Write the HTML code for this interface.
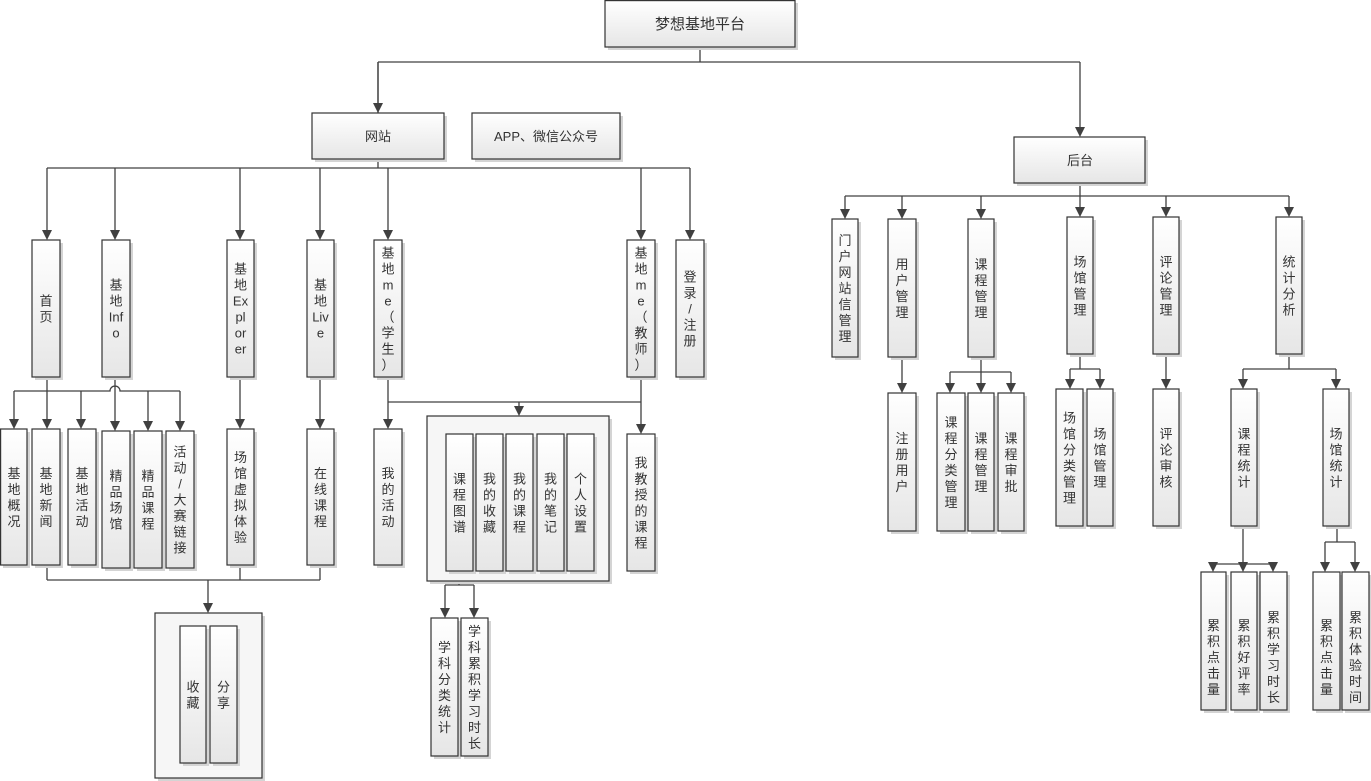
<!DOCTYPE html>
<html><head><meta charset="utf-8"><style>
html,body{margin:0;padding:0;background:#fff;}
svg{display:block;}
text{font-family:"Liberation Sans","Noto Sans CJK SC",sans-serif;font-size:13px;fill:#333;text-anchor:middle;}
.b{fill:url(#g);stroke:#333;stroke-width:1.2;}
.s{fill:#d4d4d4;}
.c{fill:#f6f6f6;stroke:#333;stroke-width:1.2;}
.l{fill:none;stroke:#404040;stroke-width:1.3;}
.a{fill:none;stroke:#404040;stroke-width:1.3;marker-end:url(#m);}
</style></head><body>
<svg width="1371" height="781" viewBox="0 0 1371 781" xmlns="http://www.w3.org/2000/svg">
<defs>
<linearGradient id="g" x1="0" y1="0" x2="0" y2="1"><stop offset="0" stop-color="#ffffff"/><stop offset="1" stop-color="#e6e6e6"/></linearGradient>
<marker id="m" markerWidth="10" markerHeight="10" refX="5" refY="10" orient="auto-start-reverse" markerUnits="userSpaceOnUse" viewBox="0 0 10 10"><path d="M0,0 L10,0 L5,10 Z" fill="#404040" transform="rotate(0)"/></marker>
</defs>
<style>#m path{}</style>

<!-- connectors -->
<path class="l" d="M700,47V62M378,62H1080"/>
<path class="a" d="M378,62V113" style="marker-end:none"/>
<g id="arr"></g>
<!-- arrows drawn as line + triangle -->
<g fill="#404040">
</g>
<path class="l" d="M378,62V104M1080,62V128M378,159V168M47,168H690"/>
<path class="l" d="M47,168V231M115,168V231M240,168V231M320,168V231M388,168V231M641,168V231M690,168V231"/>
<path class="l" d="M47,377V420M14,391H110A5,5 0 0 1 120,391H180M14,391V420M81,391V420M148,391V422M180,391V422M115,377V422"/>
<path class="l" d="M240,377V420M320,377V420M388,377V420M388,402H641M519,402V407M641,377V425"/>
<path class="l" d="M47,565V580M240,565V580M320,565V580M47,580H320M208,580V604"/>
<path class="l" d="M459,571V585M445,585H474M445,585V609M474,585V609"/>
<path class="l" d="M1080,183V196M845,196H1289M845,196V210M902,196V210M981,196V210M1080,196V208M1166,196V208M1289,196V208"/>
<path class="l" d="M902,357V384M981,357V372M950,372H1011M950,372V384M981,372V384M1011,372V384"/>
<path class="l" d="M1080,354V369M1070,369H1100M1070,369V380M1100,369V380M1166,354V380"/>
<path class="l" d="M1289,354V369M1243,369H1336M1243,369V380M1336,369V380"/>
<path class="l" d="M1243,526V564M1213,564H1273M1213,564V563M1213,564V563M1213,564V563"/>
<path class="l" d="M1213,564V563M1213,564V563"/>
<path class="l" d="M1213,564V563"/>
<path class="l" d="M1213,564V563M1243,564V563M1273,564V563"/>
<path class="l" d="M1337,526V542M1325,542H1355M1325,542V563M1355,542V563M1213,564V563"/>
<!-- arrowheads (tip x,y) -->
<g fill="#404040">
<path d="M373,103h10l-5,10z"/><path d="M1075,127h10l-5,10z"/>
<path d="M42,230h10l-5,10z"/><path d="M110,230h10l-5,10z"/><path d="M235,230h10l-5,10z"/><path d="M315,230h10l-5,10z"/><path d="M383,230h10l-5,10z"/><path d="M636,230h10l-5,10z"/><path d="M685,230h10l-5,10z"/>
<path d="M9,419h10l-5,10z"/><path d="M42,419h10l-5,10z"/><path d="M76,419h10l-5,10z"/><path d="M110,421h10l-5,10z"/><path d="M143,421h10l-5,10z"/><path d="M175,421h10l-5,10z"/>
<path d="M235,419h10l-5,10z"/><path d="M315,419h10l-5,10z"/><path d="M383,419h10l-5,10z"/><path d="M514,406h10l-5,10z"/><path d="M636,424h10l-5,10z"/>
<path d="M203,603h10l-5,10z"/><path d="M440,608h10l-5,10z"/><path d="M469,608h10l-5,10z"/>
<path d="M840,209h10l-5,10z"/><path d="M897,209h10l-5,10z"/><path d="M976,209h10l-5,10z"/><path d="M1075,207h10l-5,10z"/><path d="M1161,207h10l-5,10z"/><path d="M1284,207h10l-5,10z"/>
<path d="M897,383h10l-5,10z"/><path d="M945,383h10l-5,10z"/><path d="M976,383h10l-5,10z"/><path d="M1006,383h10l-5,10z"/>
<path d="M1065,379h10l-5,10z"/><path d="M1095,379h10l-5,10z"/><path d="M1161,379h10l-5,10z"/><path d="M1238,379h10l-5,10z"/><path d="M1331,379h10l-5,10z"/>
<path d="M1208,562h10l-5,10z"/><path d="M1238,562h10l-5,10z"/><path d="M1268,562h10l-5,10z"/><path d="M1320,562h10l-5,10z"/><path d="M1350,562h10l-5,10z"/>
</g>

<!-- top boxes -->
<rect class="s" x="608" y="3" width="190" height="47"/><rect class="b" x="605" y="0.6" width="190" height="46.4"/>
<text x="700" y="29" style="font-size:15px">梦想基地平台</text>
<rect class="s" x="315" y="116" width="132" height="46"/><rect class="b" x="312" y="113" width="132" height="46"/>
<text x="378" y="141">网站</text>
<rect class="s" x="475" y="116" width="148" height="46"/><rect class="b" x="472" y="113" width="148" height="46"/>
<text x="546" y="141">APP、微信公众号</text>
<rect class="s" x="1017" y="140" width="131" height="46"/><rect class="b" x="1014" y="137" width="131" height="46"/>
<text x="1080" y="165">后台</text>

<!-- containers -->
<rect class="s" x="430" y="419" width="182" height="165"/><rect class="c" x="427" y="416" width="182" height="165"/>
<rect class="s" x="158" y="616" width="107" height="165"/><rect class="c" x="155" y="613" width="107" height="165"/>

<!-- left level 1 -->
<rect class="s" x="35" y="243" width="28" height="137"/><rect class="b" x="32" y="240" width="28" height="137"/>
<text x="46" y="305.5"><tspan x="46">首</tspan><tspan x="46" dy="16">页</tspan></text>
<rect class="s" x="105" y="243" width="28" height="137"/><rect class="b" x="102" y="240" width="28" height="137"/>
<text x="116" y="289.5"><tspan x="116">基</tspan><tspan x="116" dy="16">地</tspan><tspan x="116" dy="16">Inf</tspan><tspan x="116" dy="16">o</tspan></text>
<rect class="s" x="230" y="243" width="27" height="137"/><rect class="b" x="227" y="240" width="27" height="137"/>
<text x="240.5" y="273.5"><tspan x="240.5">基</tspan><tspan x="240.5" dy="16">地</tspan><tspan x="240.5" dy="16">Ex</tspan><tspan x="240.5" dy="16">pl</tspan><tspan x="240.5" dy="16">or</tspan><tspan x="240.5" dy="16">er</tspan></text>
<rect class="s" x="310" y="243" width="27" height="137"/><rect class="b" x="307" y="240" width="27" height="137"/>
<text x="320.5" y="289.5"><tspan x="320.5">基</tspan><tspan x="320.5" dy="16">地</tspan><tspan x="320.5" dy="16">Liv</tspan><tspan x="320.5" dy="16">e</tspan></text>
<rect class="s" x="377" y="243" width="28" height="137"/><rect class="b" x="374" y="240" width="28" height="137"/>
<text x="388" y="257.5"><tspan x="388">基</tspan><tspan x="388" dy="16">地</tspan><tspan x="388" dy="16">m</tspan><tspan x="388" dy="16">e</tspan><tspan x="388" dy="16">（</tspan><tspan x="388" dy="16">学</tspan><tspan x="388" dy="16">生</tspan><tspan x="388" dy="16">）</tspan></text>
<rect class="s" x="630" y="243" width="28" height="137"/><rect class="b" x="627" y="240" width="28" height="137"/>
<text x="641" y="257.5"><tspan x="641">基</tspan><tspan x="641" dy="16">地</tspan><tspan x="641" dy="16">m</tspan><tspan x="641" dy="16">e</tspan><tspan x="641" dy="16">（</tspan><tspan x="641" dy="16">教</tspan><tspan x="641" dy="16">师</tspan><tspan x="641" dy="16">）</tspan></text>
<rect class="s" x="679" y="243" width="28" height="137"/><rect class="b" x="676" y="240" width="28" height="137"/>
<text x="690" y="281.5"><tspan x="690">登</tspan><tspan x="690" dy="16">录</tspan><tspan x="690" dy="16">/</tspan><tspan x="690" dy="16">注</tspan><tspan x="690" dy="16">册</tspan></text>

<!-- left level 2 -->
<rect class="s" x="3" y="432" width="27" height="136"/><rect class="b" x="0.6" y="429" width="26.4" height="136"/>
<text x="14" y="478"><tspan x="14">基</tspan><tspan x="14" dy="16">地</tspan><tspan x="14" dy="16">概</tspan><tspan x="14" dy="16">况</tspan></text>
<rect class="s" x="35" y="432" width="28" height="136"/><rect class="b" x="32" y="429" width="28" height="136"/>
<text x="46" y="478"><tspan x="46">基</tspan><tspan x="46" dy="16">地</tspan><tspan x="46" dy="16">新</tspan><tspan x="46" dy="16">闻</tspan></text>
<rect class="s" x="71" y="432" width="28" height="136"/><rect class="b" x="68" y="429" width="28" height="136"/>
<text x="82" y="478"><tspan x="82">基</tspan><tspan x="82" dy="16">地</tspan><tspan x="82" dy="16">活</tspan><tspan x="82" dy="16">动</tspan></text>
<rect class="s" x="105" y="434" width="28" height="137"/><rect class="b" x="102" y="431" width="28" height="137"/>
<text x="116" y="480.5"><tspan x="116">精</tspan><tspan x="116" dy="16">品</tspan><tspan x="116" dy="16">场</tspan><tspan x="116" dy="16">馆</tspan></text>
<rect class="s" x="137" y="434" width="28" height="137"/><rect class="b" x="134" y="431" width="28" height="137"/>
<text x="148" y="480.5"><tspan x="148">精</tspan><tspan x="148" dy="16">品</tspan><tspan x="148" dy="16">课</tspan><tspan x="148" dy="16">程</tspan></text>
<rect class="s" x="169" y="434" width="28" height="137"/><rect class="b" x="166" y="431" width="28" height="137"/>
<text x="180" y="456.5"><tspan x="180">活</tspan><tspan x="180" dy="16">动</tspan><tspan x="180" dy="16">/</tspan><tspan x="180" dy="16">大</tspan><tspan x="180" dy="16">赛</tspan><tspan x="180" dy="16">链</tspan><tspan x="180" dy="16">接</tspan></text>
<rect class="s" x="230" y="432" width="27" height="136"/><rect class="b" x="227" y="429" width="27" height="136"/>
<text x="240.5" y="462"><tspan x="240.5">场</tspan><tspan x="240.5" dy="16">馆</tspan><tspan x="240.5" dy="16">虚</tspan><tspan x="240.5" dy="16">拟</tspan><tspan x="240.5" dy="16">体</tspan><tspan x="240.5" dy="16">验</tspan></text>
<rect class="s" x="310" y="432" width="27" height="136"/><rect class="b" x="307" y="429" width="27" height="136"/>
<text x="320.5" y="478"><tspan x="320.5">在</tspan><tspan x="320.5" dy="16">线</tspan><tspan x="320.5" dy="16">课</tspan><tspan x="320.5" dy="16">程</tspan></text>
<rect class="s" x="377" y="432" width="28" height="136"/><rect class="b" x="374" y="429" width="28" height="136"/>
<text x="388" y="478"><tspan x="388">我</tspan><tspan x="388" dy="16">的</tspan><tspan x="388" dy="16">活</tspan><tspan x="388" dy="16">动</tspan></text>

<!-- container inner -->
<rect class="s" x="449" y="437" width="27" height="137"/><rect class="b" x="446" y="434" width="27" height="137"/>
<text x="459.5" y="483.5"><tspan x="459.5">课</tspan><tspan x="459.5" dy="16">程</tspan><tspan x="459.5" dy="16">图</tspan><tspan x="459.5" dy="16">谱</tspan></text>
<rect class="s" x="479" y="437" width="27" height="137"/><rect class="b" x="476" y="434" width="27" height="137"/>
<text x="489.5" y="483.5"><tspan x="489.5">我</tspan><tspan x="489.5" dy="16">的</tspan><tspan x="489.5" dy="16">收</tspan><tspan x="489.5" dy="16">藏</tspan></text>
<rect class="s" x="509" y="437" width="27" height="137"/><rect class="b" x="506" y="434" width="27" height="137"/>
<text x="519.5" y="483.5"><tspan x="519.5">我</tspan><tspan x="519.5" dy="16">的</tspan><tspan x="519.5" dy="16">课</tspan><tspan x="519.5" dy="16">程</tspan></text>
<rect class="s" x="540" y="437" width="27" height="137"/><rect class="b" x="537" y="434" width="27" height="137"/>
<text x="550.5" y="483.5"><tspan x="550.5">我</tspan><tspan x="550.5" dy="16">的</tspan><tspan x="550.5" dy="16">笔</tspan><tspan x="550.5" dy="16">记</tspan></text>
<rect class="s" x="570" y="437" width="27" height="137"/><rect class="b" x="567" y="434" width="27" height="137"/>
<text x="580.5" y="483.5"><tspan x="580.5">个</tspan><tspan x="580.5" dy="16">人</tspan><tspan x="580.5" dy="16">设</tspan><tspan x="580.5" dy="16">置</tspan></text>
<rect class="s" x="630" y="437" width="28" height="137"/><rect class="b" x="627" y="434" width="28" height="137"/>
<text x="641" y="467.5"><tspan x="641">我</tspan><tspan x="641" dy="16">教</tspan><tspan x="641" dy="16">授</tspan><tspan x="641" dy="16">的</tspan><tspan x="641" dy="16">课</tspan><tspan x="641" dy="16">程</tspan></text>

<rect class="s" x="434" y="621" width="27" height="138"/><rect class="b" x="431" y="618" width="27" height="138"/>
<text x="444.5" y="652"><tspan x="444.5">学</tspan><tspan x="444.5" dy="16">科</tspan><tspan x="444.5" dy="16">分</tspan><tspan x="444.5" dy="16">类</tspan><tspan x="444.5" dy="16">统</tspan><tspan x="444.5" dy="16">计</tspan></text>
<rect class="s" x="464" y="621" width="27" height="138"/><rect class="b" x="461" y="618" width="27" height="138"/>
<text x="474.5" y="636"><tspan x="474.5">学</tspan><tspan x="474.5" dy="16">科</tspan><tspan x="474.5" dy="16">累</tspan><tspan x="474.5" dy="16">积</tspan><tspan x="474.5" dy="16">学</tspan><tspan x="474.5" dy="16">习</tspan><tspan x="474.5" dy="16">时</tspan><tspan x="474.5" dy="16">长</tspan></text>

<rect class="s" x="183" y="629" width="26" height="137"/><rect class="b" x="180" y="626" width="26" height="137"/>
<text x="193" y="691.5"><tspan x="193">收</tspan><tspan x="193" dy="16">藏</tspan></text>
<rect class="s" x="213" y="629" width="27" height="137"/><rect class="b" x="210" y="626" width="27" height="137"/>
<text x="223.5" y="691.5"><tspan x="223.5">分</tspan><tspan x="223.5" dy="16">享</tspan></text>

<!-- right level 1 -->
<rect class="s" x="835" y="222" width="26" height="138"/><rect class="b" x="832" y="219" width="26" height="138"/>
<text x="845" y="245"><tspan x="845">门</tspan><tspan x="845" dy="16">户</tspan><tspan x="845" dy="16">网</tspan><tspan x="845" dy="16">站</tspan><tspan x="845" dy="16">信</tspan><tspan x="845" dy="16">管</tspan><tspan x="845" dy="16">理</tspan></text>
<rect class="s" x="891" y="222" width="28" height="138"/><rect class="b" x="888" y="219" width="28" height="138"/>
<text x="902" y="269"><tspan x="902">用</tspan><tspan x="902" dy="16">户</tspan><tspan x="902" dy="16">管</tspan><tspan x="902" dy="16">理</tspan></text>
<rect class="s" x="971" y="222" width="26" height="138"/><rect class="b" x="968" y="219" width="26" height="138"/>
<text x="981" y="269"><tspan x="981">课</tspan><tspan x="981" dy="16">程</tspan><tspan x="981" dy="16">管</tspan><tspan x="981" dy="16">理</tspan></text>
<rect class="s" x="1070" y="220" width="26" height="137"/><rect class="b" x="1067" y="217" width="26" height="137"/>
<text x="1080" y="266.5"><tspan x="1080">场</tspan><tspan x="1080" dy="16">馆</tspan><tspan x="1080" dy="16">管</tspan><tspan x="1080" dy="16">理</tspan></text>
<rect class="s" x="1156" y="220" width="26" height="137"/><rect class="b" x="1153" y="217" width="26" height="137"/>
<text x="1166" y="266.5"><tspan x="1166">评</tspan><tspan x="1166" dy="16">论</tspan><tspan x="1166" dy="16">管</tspan><tspan x="1166" dy="16">理</tspan></text>
<rect class="s" x="1279" y="220" width="26" height="137"/><rect class="b" x="1276" y="217" width="26" height="137"/>
<text x="1289" y="266.5"><tspan x="1289">统</tspan><tspan x="1289" dy="16">计</tspan><tspan x="1289" dy="16">分</tspan><tspan x="1289" dy="16">析</tspan></text>

<!-- right level 2 -->
<rect class="s" x="891" y="396" width="28" height="138"/><rect class="b" x="888" y="393" width="28" height="138"/>
<text x="902" y="443"><tspan x="902">注</tspan><tspan x="902" dy="16">册</tspan><tspan x="902" dy="16">用</tspan><tspan x="902" dy="16">户</tspan></text>
<rect class="s" x="940" y="396" width="28" height="138"/><rect class="b" x="937" y="393" width="28" height="138"/>
<text x="951" y="427"><tspan x="951">课</tspan><tspan x="951" dy="16">程</tspan><tspan x="951" dy="16">分</tspan><tspan x="951" dy="16">类</tspan><tspan x="951" dy="16">管</tspan><tspan x="951" dy="16">理</tspan></text>
<rect class="s" x="971" y="396" width="26" height="138"/><rect class="b" x="968" y="393" width="26" height="138"/>
<text x="981" y="443"><tspan x="981">课</tspan><tspan x="981" dy="16">程</tspan><tspan x="981" dy="16">管</tspan><tspan x="981" dy="16">理</tspan></text>
<rect class="s" x="1001" y="396" width="26" height="138"/><rect class="b" x="998" y="393" width="26" height="138"/>
<text x="1011" y="443"><tspan x="1011">课</tspan><tspan x="1011" dy="16">程</tspan><tspan x="1011" dy="16">审</tspan><tspan x="1011" dy="16">批</tspan></text>
<rect class="s" x="1059" y="392" width="27" height="137"/><rect class="b" x="1056" y="389" width="27" height="137"/>
<text x="1069.5" y="422.5"><tspan x="1069.5">场</tspan><tspan x="1069.5" dy="16">馆</tspan><tspan x="1069.5" dy="16">分</tspan><tspan x="1069.5" dy="16">类</tspan><tspan x="1069.5" dy="16">管</tspan><tspan x="1069.5" dy="16">理</tspan></text>
<rect class="s" x="1090" y="392" width="26" height="137"/><rect class="b" x="1087" y="389" width="26" height="137"/>
<text x="1100" y="438.5"><tspan x="1100">场</tspan><tspan x="1100" dy="16">馆</tspan><tspan x="1100" dy="16">管</tspan><tspan x="1100" dy="16">理</tspan></text>
<rect class="s" x="1156" y="392" width="26" height="137"/><rect class="b" x="1153" y="389" width="26" height="137"/>
<text x="1166" y="438.5"><tspan x="1166">评</tspan><tspan x="1166" dy="16">论</tspan><tspan x="1166" dy="16">审</tspan><tspan x="1166" dy="16">核</tspan></text>
<rect class="s" x="1234" y="392" width="26" height="137"/><rect class="b" x="1231" y="389" width="26" height="137"/>
<text x="1244" y="438.5"><tspan x="1244">课</tspan><tspan x="1244" dy="16">程</tspan><tspan x="1244" dy="16">统</tspan><tspan x="1244" dy="16">计</tspan></text>
<rect class="s" x="1326" y="392" width="26" height="137"/><rect class="b" x="1323" y="389" width="26" height="137"/>
<text x="1336" y="438.5"><tspan x="1336">场</tspan><tspan x="1336" dy="16">馆</tspan><tspan x="1336" dy="16">统</tspan><tspan x="1336" dy="16">计</tspan></text>

<!-- right level 3 -->
<rect class="s" x="1204" y="575" width="25" height="138"/><rect class="b" x="1201" y="572" width="25" height="138"/>
<text x="1213.5" y="630"><tspan x="1213.5">累</tspan><tspan x="1213.5" dy="16">积</tspan><tspan x="1213.5" dy="16">点</tspan><tspan x="1213.5" dy="16">击</tspan><tspan x="1213.5" dy="16">量</tspan></text>
<rect class="s" x="1234" y="575" width="26" height="138"/><rect class="b" x="1231" y="572" width="26" height="138"/>
<text x="1244" y="630"><tspan x="1244">累</tspan><tspan x="1244" dy="16">积</tspan><tspan x="1244" dy="16">好</tspan><tspan x="1244" dy="16">评</tspan><tspan x="1244" dy="16">率</tspan></text>
<rect class="s" x="1263" y="575" width="27" height="138"/><rect class="b" x="1260" y="572" width="27" height="138"/>
<text x="1273.5" y="622"><tspan x="1273.5">累</tspan><tspan x="1273.5" dy="16">积</tspan><tspan x="1273.5" dy="16">学</tspan><tspan x="1273.5" dy="16">习</tspan><tspan x="1273.5" dy="16">时</tspan><tspan x="1273.5" dy="16">长</tspan></text>
<rect class="s" x="1316" y="575" width="27" height="138"/><rect class="b" x="1313" y="572" width="27" height="138"/>
<text x="1326.5" y="630"><tspan x="1326.5">累</tspan><tspan x="1326.5" dy="16">积</tspan><tspan x="1326.5" dy="16">点</tspan><tspan x="1326.5" dy="16">击</tspan><tspan x="1326.5" dy="16">量</tspan></text>
<rect class="s" x="1345" y="575" width="26" height="138"/><rect class="b" x="1342" y="572" width="27" height="138"/>
<text x="1355.5" y="622"><tspan x="1355.5">累</tspan><tspan x="1355.5" dy="16">积</tspan><tspan x="1355.5" dy="16">体</tspan><tspan x="1355.5" dy="16">验</tspan><tspan x="1355.5" dy="16">时</tspan><tspan x="1355.5" dy="16">间</tspan></text>
</svg>
</body></html>
